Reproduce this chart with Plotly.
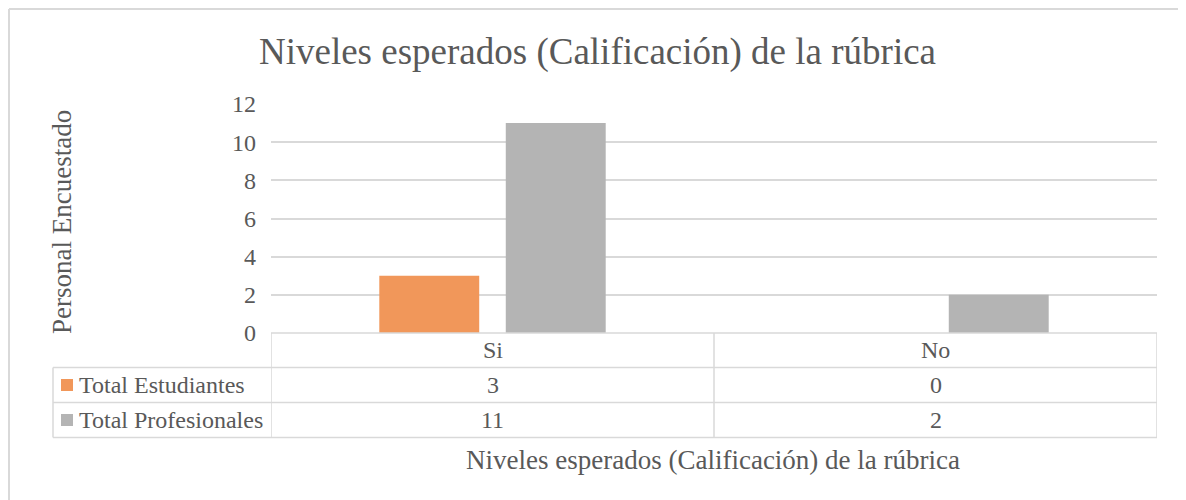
import plotly.graph_objects as go

# ---- data ----
categories = ["Si", "No"]
series_names = ["Total Estudiantes", "Total Profesionales"]
estudiantes = [3, 0]
profesionales = [11, 2]
series_values = [estudiantes, profesionales]
series_colors = ["#F1975A", "#B4B4B4"]
y_ticks = [0, 2, 4, 6, 8, 10, 12]

title_text = "Niveles esperados (Calificación) de la rúbrica"
x_title = "Niveles esperados (Calificación) de la rúbrica"
y_title = "Personal Encuestado"

W, H = 1186, 500
OX, OY = 8, 8  # page body offset to compensate
FONT = "Liberation Serif, Times New Roman, serif"
TXT = "#595959"
GRID = "#D9D9D9"


def px(x):
    return (x - OX) / W


def py(y):
    return 1 - (y - OY) / H


plot_l, plot_r, plot_t, plot_b = 271, 1157, 104, 333
row_lines = [333, 367.5, 402.5, 437.5]
left_col = 53

fig = go.Figure()
for name, vals, col in zip(series_names, series_values, series_colors):
    fig.add_trace(go.Bar(x=categories, y=vals, name=name, marker_color=col,
                         marker_line_width=0, hoverinfo="x+y+name"))

fig.update_layout(
    template="none",
    width=W, height=H,
    margin=dict(l=0, r=0, t=0, b=0, pad=0, autoexpand=False),
    paper_bgcolor="white", plot_bgcolor="white",
    barmode="group", bargap=0.429, bargroupgap=0.21,
    showlegend=False,
    font=dict(family=FONT, color=TXT, size=24),
    xaxis=dict(domain=[px(plot_l), px(plot_r)], type="category",
               categoryorder="array", categoryarray=categories,
               range=[-0.5, len(categories) - 0.5], automargin=False,
               showticklabels=False, showgrid=False, zeroline=False,
               showline=False, ticks="", fixedrange=True),
    yaxis=dict(domain=[py(plot_b), py(plot_t)], range=[0, 12], automargin=False,
               tickvals=y_ticks, ticktext=[str(v) for v in y_ticks],
               showgrid=True, gridcolor=GRID, gridwidth=1.5,
               zeroline=False, showline=False, ticks="",
               tickfont=dict(family=FONT, color=TXT, size=24),
               ticklabelstandoff=14, fixedrange=True),
)

shapes = []
line = dict(color=GRID, width=1.5)
border = dict(color="#D9D9D9", width=2)
bx0, bx1, by0 = 9, 1183, 9
# outer chart border
shapes.append(dict(type="line", xref="paper", yref="paper", x0=px(bx0), x1=px(bx1), y0=py(by0), y1=py(by0), line=border))
shapes.append(dict(type="line", xref="paper", yref="paper", x0=px(bx0), x1=px(bx0), y0=py(by0), y1=py(515), line=border))
shapes.append(dict(type="line", xref="paper", yref="paper", x0=px(bx1), x1=px(bx1), y0=py(by0), y1=py(515), line=border))

# data table horizontal lines
shapes.append(dict(type="line", xref="paper", yref="paper", x0=px(plot_l), x1=px(plot_r),
                   y0=py(row_lines[0]), y1=py(row_lines[0]), line=line))
for yl in row_lines[1:]:
    shapes.append(dict(type="line", xref="paper", yref="paper", x0=px(left_col), x1=px(plot_r),
                       y0=py(yl), y1=py(yl), line=line))
# vertical lines
shapes.append(dict(type="line", xref="paper", yref="paper", x0=px(left_col), x1=px(left_col),
                   y0=py(row_lines[1]), y1=py(row_lines[-1]), line=line))
for i in range(len(categories) + 1):
    xb = i - 0.5
    shapes.append(dict(type="line", xref="x", yref="paper", x0=xb, x1=xb,
                       y0=py(row_lines[0]), y1=py(row_lines[-1]), line=line))

annotations = []
# header row (categories)
for i, c in enumerate(categories):
    annotations.append(dict(x=i, xref="x", y=py((row_lines[0] + row_lines[1]) / 2), yref="paper",
                            text=c, showarrow=False, xanchor="center", yanchor="middle",
                            font=dict(family=FONT, color=TXT, size=24)))
# data rows
for r, (name, vals, col) in enumerate(zip(series_names, series_values, series_colors)):
    yc = (row_lines[r + 1] + row_lines[r + 2]) / 2
    shapes.append(dict(type="rect", xref="paper", yref="paper", x0=px(61), x1=px(73),
                       y0=py(yc + 6), y1=py(yc - 6), fillcolor=col, line=dict(width=0)))
    annotations.append(dict(x=px(77), xref="paper", y=py(yc), yref="paper", text=name,
                            showarrow=False, xanchor="left", yanchor="middle",
                            font=dict(family=FONT, color=TXT, size=24)))
    for i, v in enumerate(vals):
        annotations.append(dict(x=i, xref="x", y=py(yc), yref="paper", text=str(v),
                                showarrow=False, xanchor="center", yanchor="middle",
                                font=dict(family=FONT, color=TXT, size=24)))

# titles
annotations.append(dict(x=px(597), y=py(52), xref="paper", yref="paper", text=title_text,
                        showarrow=False, xanchor="center", yanchor="middle",
                        font=dict(family=FONT, color=TXT, size=37)))
annotations.append(dict(x=px(713), y=py(460), xref="paper", yref="paper", text=x_title,
                        showarrow=False, xanchor="center", yanchor="middle",
                        font=dict(family=FONT, color=TXT, size=27)))
annotations.append(dict(x=px(62), y=py(222), xref="paper", yref="paper", text=y_title,
                        showarrow=False, xanchor="center", yanchor="middle", textangle=-90,
                        font=dict(family=FONT, color=TXT, size=27)))

fig.update_layout(shapes=shapes, annotations=annotations)
fig.write_html("out.html")
